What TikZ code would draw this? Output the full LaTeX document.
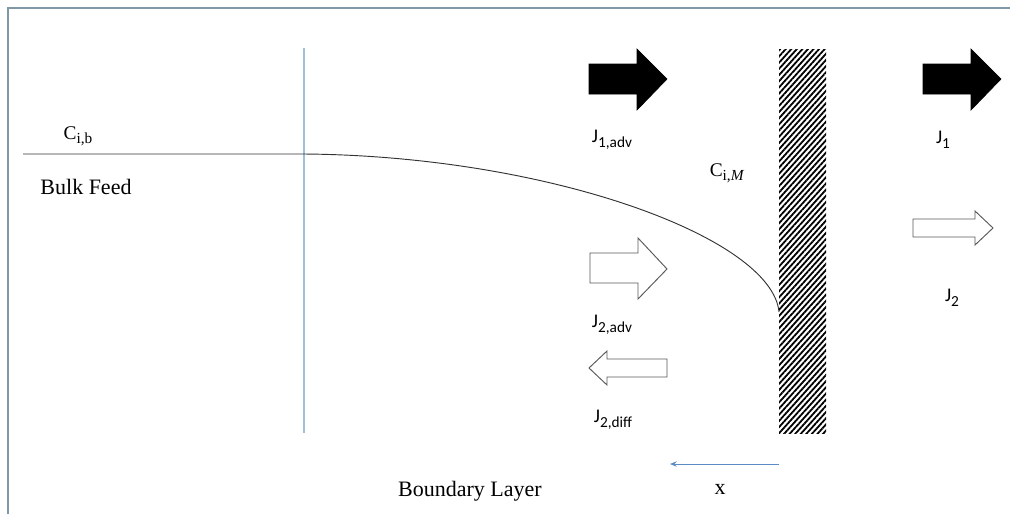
\documentclass[tikz,border=0pt]{standalone}
\usepackage{fontspec}
\setmainfont{Liberation Serif}
\newfontfamily\calfont{Carlito}
\newfontfamily\serfont{Liberation Serif}
\usetikzlibrary{patterns.meta,arrows.meta}
\definecolor{framegray}{HTML}{7F97A6}
\definecolor{lightblue}{HTML}{9DC0DF}
\definecolor{axisblue}{HTML}{5B8CC6}
\newcommand\lowsub[2]{#1\raisebox{-0.5ex}{\fontsize{11.5}{12}\selectfont #2}}
\begin{document}
\begin{tikzpicture}[x=0.75pt,y=-0.75pt,
  frameline/.style={draw=framegray,line width=0.9pt},
  blayer/.style={draw=lightblue,line width=0.8pt},
  profile/.style={draw=black!80,line width=0.7pt},
  solidarrow/.style={fill=black,draw=black,line width=0.5pt},
  openarrow/.style={fill=white,draw=black!65,line width=0.7pt},
  serlabel/.style={font=\serfont\fontsize{16.5}{18}\selectfont,inner sep=0pt},
  clabel/.style={font=\serfont\fontsize{14.5}{16}\selectfont,inner sep=0pt},
  jlabel/.style={font=\calfont\fontsize{14.5}{16}\selectfont,inner sep=0pt},
  membrane/.style={pattern={Lines[angle=48,distance=3.1pt,line width=1.35pt]},pattern color=black}
]
\useasboundingbox (0,0) rectangle (1010,514);
% frame
\draw[frameline] (8,514) -- (8,8) -- (1010,8);
% boundary-layer edge
\draw[blayer] (304,48) -- (304,433);
% membrane
\fill[membrane] (779,49) rectangle (826,433);
% concentration profile
\coordinate (p0) at (23,154);
\coordinate (p1) at (304,154);
\coordinate (p2) at (779,312);
\draw[profile] (p0) -- (p1) .. controls (550,156) and (772,238) .. (p2);
% solid arrows (J1)
\draw[solidarrow] (589,64) -- (637,64) -- (637,49) -- (667,79) -- (637,110) -- (637,94) -- (589,94) -- cycle;
\draw[solidarrow] (923,64) -- (971,64) -- (971,49) -- (1001,79) -- (971,110) -- (971,94) -- (923,94) -- cycle;
% open arrows (J2)
\draw[openarrow] (590,253) -- (638,253) -- (638,238) -- (667,269) -- (638,299) -- (638,283) -- (590,283) -- cycle;
\draw[openarrow] (667,359) -- (607,359) -- (607,351) -- (589,368) -- (607,385) -- (607,377) -- (667,377) -- cycle;
\draw[openarrow] (913,219) -- (975,219) -- (975,211) -- (993,228) -- (975,245) -- (975,237) -- (913,237) -- cycle;
% labels
\node[clabel] (cib) at (78,136) {\lowsub{C}{i,b}};
\node[serlabel] (bulk) at (86,187) {Bulk Feed};
\node[jlabel] (j1adv) at (612,140) {\lowsub{J}{1,adv}};
\node[jlabel] (j1) at (943,140) {\lowsub{J}{1}};
\node[clabel] (cim) at (727,173) {\lowsub{C}{i,\textit{M}}};
\node[jlabel] (j2adv) at (612,325) {\lowsub{J}{2,adv}};
\node[jlabel] (j2diff) at (613,420) {\lowsub{J}{2,diff}};
\node[jlabel] (j2) at (952,298) {\lowsub{J}{2}};
\node[serlabel] (bl) at (470,491) {Boundary Layer};
\node[serlabel] (xl) at (720,489) {x};
% x axis arrow
\coordinate (xa) at (779,464);
\coordinate (xb) at (670,464);
\draw[draw=axisblue,line width=0.7pt,-{Stealth[length=5pt,width=4pt]}] (xa) -- (xb);
\end{tikzpicture}
\end{document}
